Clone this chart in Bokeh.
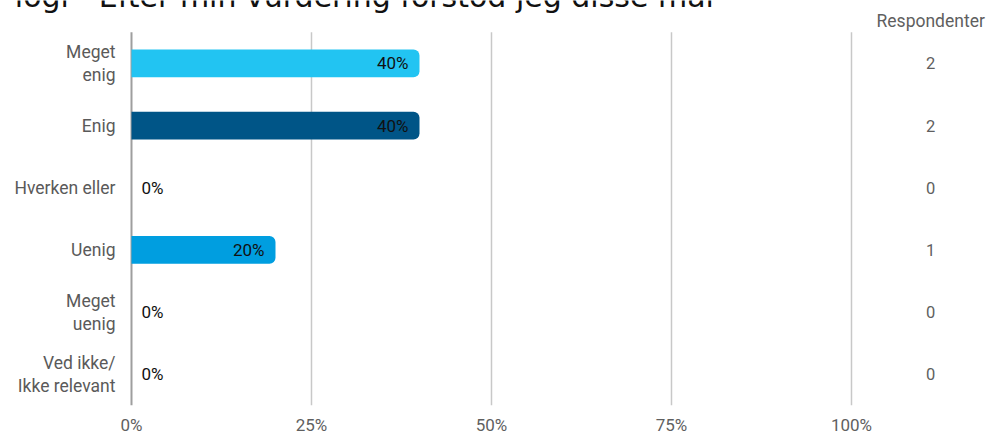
from bokeh.plotting import figure
from bokeh.models import Range1d, FixedTicker, ColumnDataSource
from bokeh.embed import file_html
from bokeh.resources import INLINE
from bokeh.core.properties import value

# ---- data ----
title_text = "logi - Efter min vurdering forstod jeg disse mål"
categories = ["Meget\nenig", "Enig", "Hverken eller", "Uenig", "Meget\nuenig", "Ved ikke/\nIkke relevant"]
shares = [40, 40, 0, 20, 0, 0]
counts = [2, 2, 0, 1, 0, 0]
bar_colors = ["#22C4F2", "#005587", "#7FD6F5", "#009EE0", "#5B7F95", "#B0B0B0"]
x_ticks = [0, 25, 50, 75, 100]
x_tick_labels = ["0%", "25%", "50%", "75%", "100%"]
count_header = "Respondenter"

FONT = "Roboto"
n = len(categories)
ypos = [n - i - 0.5 for i in range(n)]
count_x = 111

src = ColumnDataSource(dict(
    y=ypos, share=shares, color=bar_colors, cat=categories,
    label=[f"{v}%" for v in shares],
    align=["right" if v > 0 else "left" for v in shares],
    xoff=[-11 if v > 0 else 10 for v in shares],
    cnt=[str(c) for c in counts],
    cx=[count_x] * n,
    zero=[0] * n,
))

p = figure(width=998, height=437, output_backend="svg", toolbar_location=None,
           x_range=Range1d(-18.194, 120.417), y_range=Range1d(0, n + 0.51),
           min_border_left=0, min_border_right=0, min_border_top=0, min_border_bottom=29)
p.outline_line_color = None
p.background_fill_color = "white"
p.xgrid.grid_line_color = None
p.ygrid.grid_line_color = None
p.yaxis.visible = False

# vertical grid lines spanning only the category area
grid_x = x_ticks[1:]
p.segment(x0=grid_x, x1=grid_x, y0=[0] * len(grid_x), y1=[n] * len(grid_x),
          line_color="#c8c8c8", line_width=1.5)
# zero line
p.segment(x0=[0], x1=[0], y0=[0], y1=[n], line_color="#9e9e9e", line_width=2)

p.hbar(y="y", left=0, right="share", height=0.447, color="color", line_color=None,
       border_radius=(0, 6, 6, 0), source=src)

# category labels
p.text(x="zero", y="y", text="cat", text_align="right", x_offset=-16,
       text_baseline="middle", text_font=value(FONT), text_font_size="17.5px",
       text_color="#5a5a5a", text_line_height=1.15, source=src)

p.text(x="share", y="y", text="label", text_align="align", x_offset="xoff",
       text_baseline="middle", text_font=value(FONT), text_font_size="17px",
       text_color="#111111", source=src)

p.text(x="cx", y="y", text="cnt", text_align="center", text_baseline="middle",
       text_font=value(FONT), text_font_size="16.5px", text_color="#5f5f5f", source=src)

# header above count column
p.text(x=[count_x], y=[n + 0.175], text=[count_header], text_align="center",
       text_baseline="middle", text_font=value(FONT), text_font_size="17.5px",
       text_color="#5f5f5f")

# title, cut off at the top edge as in the original
p.text(x=[-16.2], y=[n + 0.57], text=[title_text], text_align="left",
       text_baseline="alphabetic", text_font=value("DejaVu Sans"), text_font_size="30px",
       text_color="#111111")

# x axis
xa = p.xaxis[0]
xa.ticker = FixedTicker(ticks=x_ticks)
xa.major_label_overrides = {t: l for t, l in zip(x_ticks, x_tick_labels)}
xa.axis_line_color = None
xa.major_tick_line_color = None
xa.minor_tick_line_color = None
xa.major_tick_out = 0
xa.major_tick_in = 0
xa.major_label_standoff = 9
xa.major_label_text_font = FONT
xa.major_label_text_font_size = "17px"
xa.major_label_text_color = "#5f5f5f"

open("out.html", "w").write(file_html(p, INLINE))
